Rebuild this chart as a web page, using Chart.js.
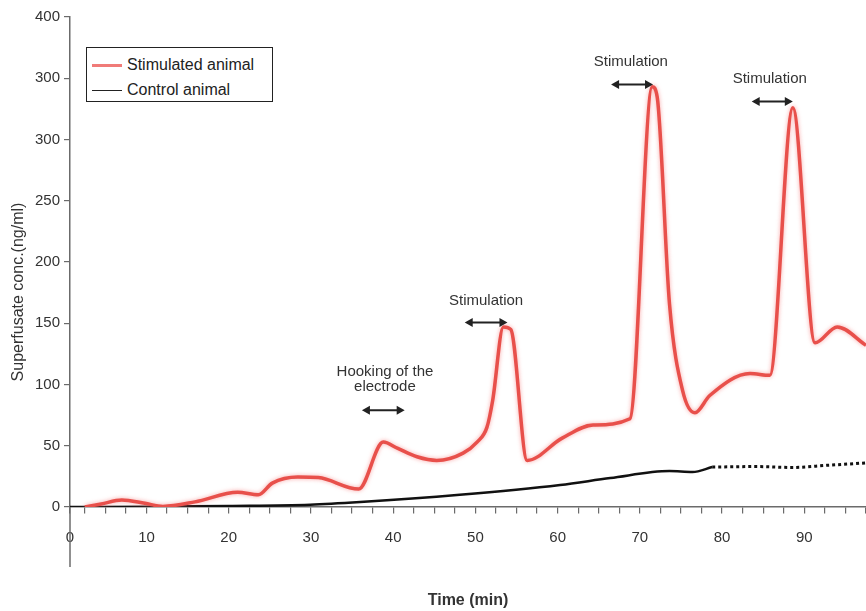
<!DOCTYPE html>
<html>
<head>
<meta charset="utf-8">
<script src="https://cdn.jsdelivr.net/npm/chart.js@4"></script>
<style>
  html, body { margin: 0; padding: 0; background: #fff; overflow: hidden; }
  #wrap { position: relative; width: 866px; height: 611px; }
  #chart { display: block; }
  #legend {
    position: absolute; left: 86px; top: 47px; width: 185px; height: 53px;
    border: 1.5px solid #222; background: #fff;
    font-family: "Liberation Sans", Arial, sans-serif; font-size: 16px; color: #222;
  }
  .item { position: absolute; left: 5px; height: 20px; line-height: 20px; white-space: nowrap; }
  .swatch { display: inline-block; width: 30px; vertical-align: middle; margin-right: 5px; }
</style>
</head>
<body>
<div id="wrap">
  <canvas id="chart" width="866" height="611"></canvas>
  <div id="legend"></div>
</div>
<script>
// stimulated animal (time in min, concentration in ng/ml)
var stimTime = [2.5, 4.5, 7.0, 9.8, 12.0, 15.9, 21.1, 23.6, 25.3, 28.4, 30.9, 35.8, 38.8, 40.5, 42.9, 45.3, 48.5, 50.2, 51.4, 52.1, 53.4, 54.3, 56.3, 60.5, 64.3, 68.8, 71.5, 72.1, 73.6, 75.2, 76.7, 78.5, 83.4, 85.8, 88.6, 91.3, 94.0, 97.5]
var stimConc = [0, 2.5, 5.7, 3, 0.5, 4.2, 12, 10, 19.5, 24.5, 24, 14.6, 53, 48, 41, 38, 44, 53, 65, 87, 147, 145, 38, 56, 67, 72, 343, 335, 166, 95, 77, 91, 109, 107.5, 326, 134, 147, 132]

// control animal, solid part and dotted part
var ctrlTime = [0.7, 10.4, 20, 29.9, 36.0, 48.1, 60.3, 66.4, 73.6, 76.4, 78.8]
var ctrlConc = [0, 0.3, 0.8, 1.8, 4, 10, 18, 23.6, 29.3, 28.5, 32.6]
var ctrlDotTime = [78.8, 84, 88.6, 92.7, 97.5]
var ctrlDotConc = [32.6, 33, 32.3, 34, 36]

// y tick labels as printed on the figure
var yTickLabels = ['0', '50', '100', '150', '200', '250', '300', '300', '400']

// annotations
var noteText = [['Hooking of the', 'electrode'], ['Stimulation'], ['Stimulation'], ['Stimulation']]
var noteTime = [39.0, 51.3, 68.9, 85.8]
var noteConc = [110, 168.6, 363.3, 349.5]
var arrowStart = [36.2, 48.7, 66.5, 83.6]
var arrowEnd = [41.4, 53.9, 71.6, 88.6]
var arrowConc = [79, 150.7, 345, 331]

var xMin = 0.7
var xMax = 97.5
var axisColor = '#6b6b6b'
var fontFamily = '"Liberation Sans", Arial, sans-serif'

function toPoints(xs, ys) {
    var pts = []
    for (var i = 0; i < xs.length; i++) pts.push({x: xs[i], y: ys[i]})
    return pts
}

function drawArrow(ctx, x1, x2, y) {
    var head = 8, half = 4.5
    ctx.beginPath()
    ctx.moveTo(x1 + 3, y)
    ctx.lineTo(x2 - 3, y)
    ctx.stroke()
    ctx.beginPath()
    ctx.moveTo(x1, y); ctx.lineTo(x1 + head, y - half); ctx.lineTo(x1 + head, y + half); ctx.closePath()
    ctx.moveTo(x2, y); ctx.lineTo(x2 - head, y - half); ctx.lineTo(x2 - head, y + half); ctx.closePath()
    ctx.fill()
}

var decorPlugin = {
    id: 'decor',
    beforeDatasetDraw: function(chart, args) {
        if (args.index === 0) {
            chart.ctx.save()
            chart.ctx.shadowColor = 'rgba(245,110,110,0.6)'
            chart.ctx.shadowBlur = 4
        }
    },
    afterDatasetDraw: function(chart, args) {
        if (args.index === 0) chart.ctx.restore()
    },
    afterDraw: function(chart) {
        var ctx = chart.ctx
        var x = chart.scales.x, y = chart.scales.y
        ctx.save()
        // y axis line continues below the time axis
        ctx.strokeStyle = axisColor
        ctx.lineWidth = 1.5
        ctx.beginPath()
        ctx.moveTo(chart.chartArea.left, chart.chartArea.bottom)
        ctx.lineTo(chart.chartArea.left, chart.chartArea.bottom + 60)
        ctx.stroke()

        // y axis title
        ctx.fillStyle = '#333'
        ctx.font = '16px ' + fontFamily
        ctx.textAlign = 'center'
        ctx.textBaseline = 'middle'
        ctx.translate(19, 292)
        ctx.rotate(-Math.PI / 2)
        ctx.fillText('Superfusate conc.(ng/ml)', 0, 0)
        ctx.restore()

        // notes and arrows
        ctx.save()
        ctx.fillStyle = '#333'
        ctx.strokeStyle = '#222'
        ctx.lineWidth = 2
        ctx.font = '15px ' + fontFamily
        ctx.textAlign = 'center'
        ctx.textBaseline = 'middle'
        for (var i = 0; i < noteText.length; i++) {
            var px = x.getPixelForValue(noteTime[i])
            var py = y.getPixelForValue(noteConc[i])
            for (var j = 0; j < noteText[i].length; j++) {
                ctx.fillText(noteText[i][j], px, py + j * 15)
            }
            ctx.fillStyle = '#222'
            drawArrow(ctx, x.getPixelForValue(arrowStart[i]), x.getPixelForValue(arrowEnd[i]), y.getPixelForValue(arrowConc[i]))
            ctx.fillStyle = '#333'
        }
        ctx.restore()
    }
}

var datasets = [
    {
        label: 'Stimulated animal',
        data: toPoints(stimTime, stimConc),
        borderColor: '#e8504b',
        borderWidth: 3.5,
        cubicInterpolationMode: 'monotone',
        pointRadius: 0
    },
    {
        label: 'Control animal',
        data: toPoints(ctrlTime, ctrlConc),
        borderColor: '#111',
        borderWidth: 2.5,
        cubicInterpolationMode: 'monotone',
        pointRadius: 0
    },
    {
        label: 'Control animal (dotted)',
        data: toPoints(ctrlDotTime, ctrlDotConc),
        borderColor: '#111',
        borderWidth: 3,
        borderDash: [3, 3],
        cubicInterpolationMode: 'monotone',
        pointRadius: 0
    }
]

new Chart(document.getElementById('chart'), {
    type: 'line',
    data: {datasets: datasets},
    plugins: [decorPlugin],
    options: {
        responsive: false,
        animation: false,
        layout: {padding: {top: 17, right: 0, left: 0, bottom: 0}},
        plugins: {legend: {display: false}, tooltip: {enabled: false}},
        scales: {
            x: {
                type: 'linear',
                min: xMin,
                max: xMax,
                afterFit: function(scale) { scale.height = 104 },
                afterBuildTicks: function(scale) {
                    var ticks = [{value: xMin}]
                    for (var v = 2.5; v <= xMax + 0.01; v += 2.5) ticks.push({value: v})
                    scale.ticks = ticks
                },
                // long tick with a dash so only 6px shows; keeps labels low without side padding
                grid: {drawOnChartArea: false, color: axisColor, tickLength: 22, lineWidth: 1.2, tickBorderDash: [6, 60]},
                border: {color: axisColor, width: 1.5},
                ticks: {
                    autoSkip: false,
                    maxRotation: 0,
                    padding: 0,
                    color: '#333',
                    font: {family: fontFamily, size: 15},
                    callback: function(value, index) {
                        if (index === 0) return '0'
                        return value % 10 === 0 ? String(value) : ''
                    }
                },
                title: {
                    display: true,
                    text: 'Time (min)',
                    color: '#333',
                    font: {family: fontFamily, size: 16, weight: 'bold'},
                    padding: {top: 0, bottom: 1}
                }
            },
            y: {
                min: 0,
                max: 400,
                afterFit: function(scale) { scale.width = 70 },
                grid: {drawOnChartArea: false, color: axisColor, tickLength: 6, lineWidth: 1.2},
                border: {color: axisColor, width: 1.5},
                ticks: {
                    stepSize: 50,
                    padding: 4,
                    color: '#333',
                    font: {family: fontFamily, size: 15},
                    callback: function(value, index) { return yTickLabels[index] }
                }
            }
        }
    }
})

// legend built from the datasets
var legend = document.getElementById('legend')
var shown = [0, 1]
for (var k = 0; k < shown.length; k++) {
    var ds = datasets[shown[k]]
    var item = document.createElement('div')
    item.className = 'item'
    item.style.top = (7 + k * 25) + 'px'
    var sw = document.createElement('span')
    sw.className = 'swatch'
    sw.style.borderTop = (k === 0 ? '3px solid #f07b78' : '1.5px solid #222')
    item.appendChild(sw)
    item.appendChild(document.createTextNode(ds.label))
    legend.appendChild(item)
}
</script>
</body>
</html>
